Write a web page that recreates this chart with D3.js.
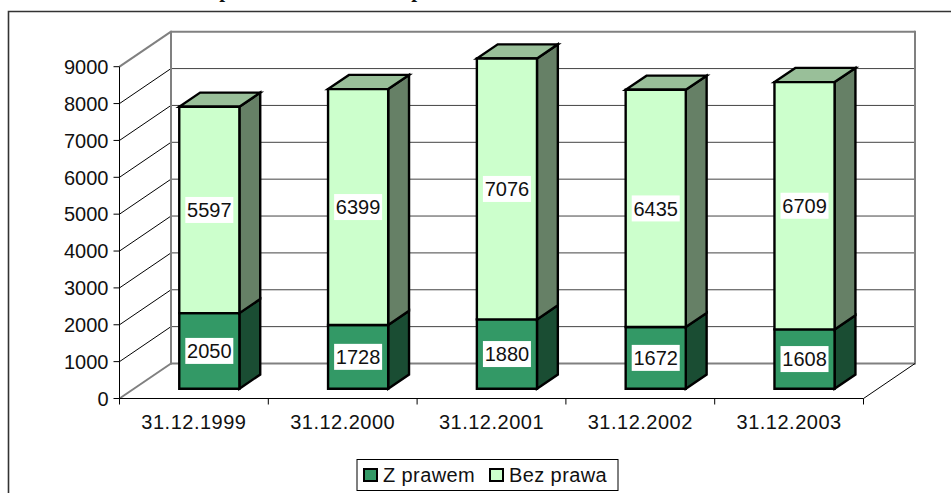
<!DOCTYPE html>
<html>
<head>
<meta charset="utf-8">
<script src="https://cdn.jsdelivr.net/npm/d3@7"></script>
<style>
    html, body { margin: 0; padding: 0; background: #fff; overflow: hidden; }
    text { font-family: "Liberation Sans", Arial, sans-serif; fill: #111; }
</style>
</head>
<body>
<div id="container"></div>
<script>
const dates = ["31.12.1999", "31.12.2000", "31.12.2001", "31.12.2002", "31.12.2003"];
const zPrawem = [2050, 1728, 1880, 1672, 1608];
const bezPrawa = [5597, 6399, 7076, 6435, 6709];
const yTicks = [0, 1000, 2000, 3000, 4000, 5000, 6000, 7000, 8000, 9000];
const legendNames = ["Z prawem", "Bez prawa"];

const width = 951, height = 493;
const fontSize = 20;

const svg = d3.select("#container").append("svg")
    .attr("width", width)
    .attr("height", height)
    .style("display", "block");

const x = d3.scaleBand().domain(dates).range([119.5, 863.5]);
const y = d3.scaleLinear().domain([0, 9000]).range([398.5, 66.7]);

// depth of the fake 3d box, 0 = front edge, 1 = back wall
const depthX = d3.scaleLinear().domain([0, 1]).range([0, 51.5]);
const depthY = d3.scaleLinear().domain([0, 1]).range([0, -35]);

const px = (xv, z) => xv + depthX(z);
const py = (v, z) => y(v) + depthY(z);
const poly = pts => pts.map(p => p.join(",")).join(" ");

const x0 = x.range()[0], x1 = x.range()[1];

// title is cut off by the top of the picture, only descenders show
[225, 417].forEach(tx => {
    svg.append("text")
        .attr("x", tx)
        .attr("y", -3)
        .attr("text-anchor", "middle")
        .style("font-family", "'Liberation Serif', serif")
        .style("font-weight", "bold")
        .style("font-size", "21px")
        .text("p");
});

// outer frame, open at right and bottom
svg.append("path")
    .attr("d", `M8.5,${height} V11.5 H${width}`)
    .attr("fill", "none")
    .attr("stroke", "#333")
    .attr("stroke-width", 1.6);

// gridlines on side wall and back wall
yTicks.forEach(t => {
    const edge = t === 0 || t === 9000;
    svg.append("line")
        .attr("x1", x0).attr("y1", py(t, 0))
        .attr("x2", px(x0, 1)).attr("y2", py(t, 1))
        .attr("stroke", edge ? "#808080" : "#000")
        .attr("stroke-width", edge ? 2 : 1);
    svg.append("line")
        .attr("x1", px(x0, 1)).attr("y1", py(t, 1))
        .attr("x2", px(x1, 1)).attr("y2", py(t, 1))
        .attr("stroke", edge ? "#808080" : "#444")
        .attr("stroke-width", edge ? 2 : 1);
});

// back wall uprights
[x0, x1].forEach(v => {
    svg.append("line")
        .attr("x1", px(v, 1)).attr("y1", py(0, 1) + 1)
        .attr("x2", px(v, 1)).attr("y2", py(9000, 1) - 1)
        .attr("stroke", "#808080")
        .attr("stroke-width", 2);
});

// floor edge on the right
svg.append("line")
    .attr("x1", x1).attr("y1", py(0, 0))
    .attr("x2", px(x1, 1)).attr("y2", py(0, 1))
    .attr("stroke", "#000");

// y axis
svg.append("line")
    .attr("x1", x0).attr("y1", y(0))
    .attr("x2", x0).attr("y2", y(9000))
    .attr("stroke", "#000");

yTicks.forEach(t => {
    svg.append("line")
        .attr("x1", x0 - 6).attr("y1", y(t))
        .attr("x2", x0).attr("y2", y(t))
        .attr("stroke", "#000");
    svg.append("text")
        .attr("x", x0 - 11)
        .attr("y", y(t))
        .attr("dy", "0.36em")
        .attr("text-anchor", "end")
        .style("font-size", fontSize + "px")
        .text(t);
});

// x axis
svg.append("line")
    .attr("x1", x0).attr("y1", y(0))
    .attr("x2", x1).attr("y2", y(0))
    .attr("stroke", "#000");

[x0].concat(dates.map(d => x(d) + x.bandwidth())).forEach(v => {
    svg.append("line")
        .attr("x1", v).attr("y1", y(0))
        .attr("x2", v).attr("y2", y(0) + 6)
        .attr("stroke", "#000");
});

svg.selectAll(".xlabel")
    .data(dates)
    .join("text")
    .attr("class", "xlabel")
    .attr("x", d => x(d) + x.bandwidth() / 2)
    .attr("y", 428.5)
    .attr("text-anchor", "middle")
    .style("font-size", fontSize + "px")
    .style("letter-spacing", "0.5px")
    .text(d => d);

// bars
const zFront = 0.28, zBack = 0.685;
const barOffset = 1;
const barWidth = x.bandwidth() * 0.404;
const series = [
    { values: zPrawem, front: "#339966", top: "#267350", side: "#1a4d33" },
    { values: bezPrawa, front: "#ccffcc", top: "#99bf99", side: "#668066" }
];
const stroke = { stroke: "#000", width: 2.4 };

dates.forEach((d, i) => {
    const left = x(d) + (x.bandwidth() - barWidth) / 2 + barOffset;
    const right = left + barWidth;
    let base = 0;

    series.forEach((s, k) => {
        const top = base + s.values[i];
        const fx0 = px(left, zFront), fx1 = px(right, zFront);
        const bx1 = px(right, zBack), bx0 = px(left, zBack);

        svg.append("polygon")
            .attr("points", poly([[fx1, py(base, zFront)], [bx1, py(base, zBack)], [bx1, py(top, zBack)], [fx1, py(top, zFront)]]))
            .attr("fill", s.side)
            .attr("stroke", stroke.stroke)
            .attr("stroke-width", stroke.width)
            .attr("stroke-linejoin", "miter");

        if (k === series.length - 1) {
            svg.append("polygon")
                .attr("points", poly([[fx0, py(top, zFront)], [fx1, py(top, zFront)], [bx1, py(top, zBack)], [bx0, py(top, zBack)]]))
                .attr("fill", s.top)
                .attr("stroke", stroke.stroke)
                .attr("stroke-width", stroke.width)
                .attr("stroke-linejoin", "miter");
        }

        svg.append("polygon")
            .attr("points", poly([[fx0, py(base, zFront)], [fx1, py(base, zFront)], [fx1, py(top, zFront)], [fx0, py(top, zFront)]]))
            .attr("fill", s.front)
            .attr("stroke", stroke.stroke)
            .attr("stroke-width", stroke.width)
            .attr("stroke-linejoin", "miter");

        // value label on a white box
        const cx = (fx0 + fx1) / 2;
        const cy = py(base + s.values[i] / 2, zFront);
        svg.append("rect")
            .attr("x", cx - 24)
            .attr("y", cy - 13)
            .attr("width", 48)
            .attr("height", 26)
            .attr("fill", "#fff");
        svg.append("text")
            .attr("x", cx)
            .attr("y", cy)
            .attr("dy", "0.36em")
            .attr("text-anchor", "middle")
            .style("font-size", fontSize + "px")
            .text(s.values[i]);

        base = top;
    });
});

// legend
const legend = svg.append("g");
legend.append("rect")
    .attr("x", 357)
    .attr("y", 459.5)
    .attr("width", 261)
    .attr("height", 31)
    .attr("fill", "#fff")
    .attr("stroke", "#000");

[363, 489].forEach((lx, i) => {
    legend.append("rect")
        .attr("x", lx + 1)
        .attr("y", 469)
        .attr("width", 13)
        .attr("height", 12)
        .attr("fill", series[i].front)
        .attr("stroke", "#000")
        .attr("stroke-width", 2);
    legend.append("text")
        .attr("x", lx + 20)
        .attr("y", 475)
        .attr("dy", "0.36em")
        .style("font-size", fontSize + "px")
        .style("letter-spacing", "0.4px")
        .text(legendNames[i]);
});
</script>
</body>
</html>
